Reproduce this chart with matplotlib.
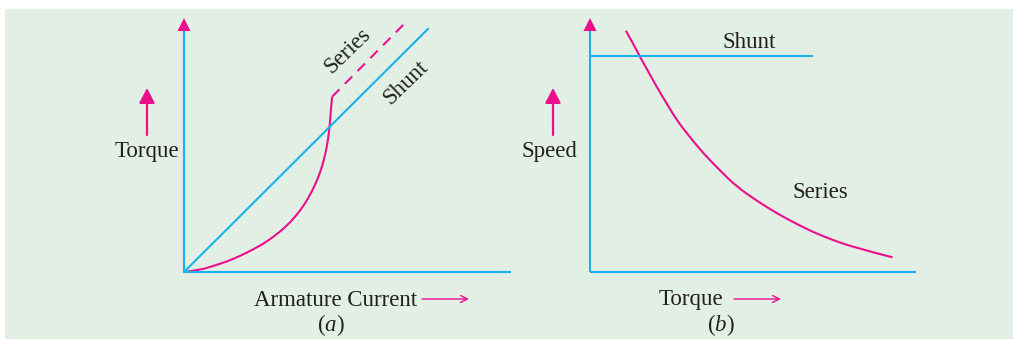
import matplotlib
matplotlib.use('Agg')
import matplotlib.pyplot as plt
from matplotlib.patches import Rectangle, PathPatch
from matplotlib.path import Path

plt.rcParams.update({
    'font.family': 'Liberation Serif',
    'mathtext.fontset': 'custom',
    'mathtext.rm': 'Liberation Serif',
    'mathtext.it': 'Liberation Serif:italic',
})

BG = '#e1efe5'
BLUE = '#1ab0ea'
MAGENTA = '#ec0f8c'
TXT = '#231f20'

# (a) torque vs armature current
shunt_a_current = [0, 7.46]
shunt_a_torque = [0, 9.57]
series_a_current = [0, 0.49, 0.90, 1.31, 1.71, 2.12, 2.53, 2.94, 3.24, 3.55,
                    3.80, 4.01, 4.16, 4.28, 4.37, 4.43, 4.47, 4.50, 4.53]
series_a_torque = [0, 0.08, 0.24, 0.41, 0.63, 0.89, 1.19, 1.59, 1.94, 2.41,
                   2.90, 3.43, 3.91, 4.41, 4.94, 5.46, 5.98, 6.51, 6.90]
series_a_sat_current = [4.53, 6.85]
series_a_sat_torque = [6.90, 9.92]

# (b) speed vs torque
shunt_b_torque = [0, 6.82]
shunt_b_speed = [8.52, 8.52]
series_b_torque = [1.10, 1.33, 1.53, 1.79, 2.04, 2.35, 2.66, 3.07, 3.48, 3.99,
                   4.50, 5.11, 5.73, 6.44, 7.16, 8.18, 9.28]
series_b_speed = [9.50, 8.98, 8.48, 7.89, 7.30, 6.64, 5.98, 5.30, 4.67, 3.99,
                  3.36, 2.81, 2.31, 1.82, 1.39, 0.93, 0.58]

W, H = 1013, 340
fig = plt.figure(figsize=(W / 100, H / 100), dpi=100)
fig.patch.set_facecolor('white')

# background axes in pixel units for the panel, labels and arrows
bg = fig.add_axes([0, 0, 1, 1])
bg.set_xlim(0, W)
bg.set_ylim(H, 0)
bg.axis('off')
bg.add_patch(Rectangle((5, 9), W - 5, 330, facecolor=BG, edgecolor='none'))

LW = 1.5


def panel(left, width, bottom=272, top=18):
    ax = fig.add_axes([left / W, (H - bottom) / H, width / W, (bottom - top) / H])
    ax.set_xlim(0, 10)
    ax.set_ylim(0, 10)
    ax.patch.set_visible(False)
    for s in ['top', 'right']:
        ax.spines[s].set_visible(False)
    for s in ['left', 'bottom']:
        ax.spines[s].set_color(BLUE)
        ax.spines[s].set_linewidth(LW)
        ax.spines[s].set_capstyle('butt')
    ax.spines['left'].set_bounds(0, 9.5)
    ax.set_xticks([])
    ax.set_yticks([])
    ax.annotate('', xy=(0, 10), xytext=(0, 9.3),
                arrowprops=dict(arrowstyle='-|>,head_length=9.4,head_width=4.7',
                                mutation_scale=1, color=MAGENTA, lw=0,
                                shrinkA=0, shrinkB=0))
    return ax


def smooth_curve(ax, xs, ys, **kw):
    # quadratic bezier through midpoints, read points act as control points
    pts = list(zip(xs, ys))
    verts = [pts[0]]
    codes = [Path.MOVETO]
    for i in range(1, len(pts) - 1):
        mid = ((pts[i][0] + pts[i + 1][0]) / 2, (pts[i][1] + pts[i + 1][1]) / 2)
        if i == len(pts) - 2:
            mid = pts[-1]
        verts += [pts[i], mid]
        codes += [Path.CURVE3, Path.CURVE3]
    patch = PathPatch(Path(verts, codes), facecolor='none', clip_on=False, **kw)
    ax.add_patch(patch)


ax_a = panel(184, 327)
ax_a.plot(shunt_a_current, shunt_a_torque, color=BLUE, lw=LW, clip_on=False)
smooth_curve(ax_a, series_a_current, series_a_torque, edgecolor=MAGENTA, lw=LW)
dash, = ax_a.plot(series_a_sat_current, series_a_sat_torque, color=MAGENTA, lw=LW,
                  clip_on=False)
dash.set_dashes([5, 3.7])

ax_b = panel(590, 326)
ax_b.plot(shunt_b_torque, shunt_b_speed, color=BLUE, lw=LW, clip_on=False)
smooth_curve(ax_b, series_b_torque, series_b_speed, edgecolor=MAGENTA, lw=LW)

FS = 16.5
up = dict(arrowstyle='-|>,head_length=9,head_width=4.7', mutation_scale=1,
          color=MAGENTA, lw=1.6, shrinkA=0, shrinkB=0)
right = dict(arrowstyle='->,head_length=5,head_width=2.5', mutation_scale=1,
             color=MAGENTA, lw=1.0, shrinkA=0, shrinkB=0)

# panel (a) labels
bg.annotate('', xy=(147, 88), xytext=(147, 135), arrowprops=up)
bg.text(147, 152, 'Torque', fontsize=FS, color=TXT, ha='center', va='center')
bg.text(336, 300, 'Armature Current', fontsize=FS, color=TXT, ha='center', va='center')
bg.annotate('', xy=(469, 299), xytext=(422, 299), arrowprops=right)
bg.text(331, 325, '($\\mathit{a}$)', fontsize=FS, color=TXT, ha='center', va='center')
bg.text(348, 51, 'Series', fontsize=FS, color=TXT, ha='center', va='center',
        rotation=44, rotation_mode='anchor')
bg.text(406, 83, 'Shunt', fontsize=FS, color=TXT, ha='center', va='center',
        rotation=44, rotation_mode='anchor')

# panel (b) labels
bg.annotate('', xy=(553, 88), xytext=(553, 135), arrowprops=up)
bg.text(549, 152, 'Speed', fontsize=FS, color=TXT, ha='center', va='center')
bg.text(691, 300, 'Torque', fontsize=FS, color=TXT, ha='center', va='center')
bg.annotate('', xy=(781, 299), xytext=(734, 299), arrowprops=right)
bg.text(721, 325, '($\\mathit{b}$)', fontsize=FS, color=TXT, ha='center', va='center')
bg.text(749, 43, 'Shunt', fontsize=FS, color=TXT, ha='center', va='center')
bg.text(820, 192, 'Series', fontsize=FS, color=TXT, ha='center', va='center')

fig.savefig('out.png', dpi=100)
